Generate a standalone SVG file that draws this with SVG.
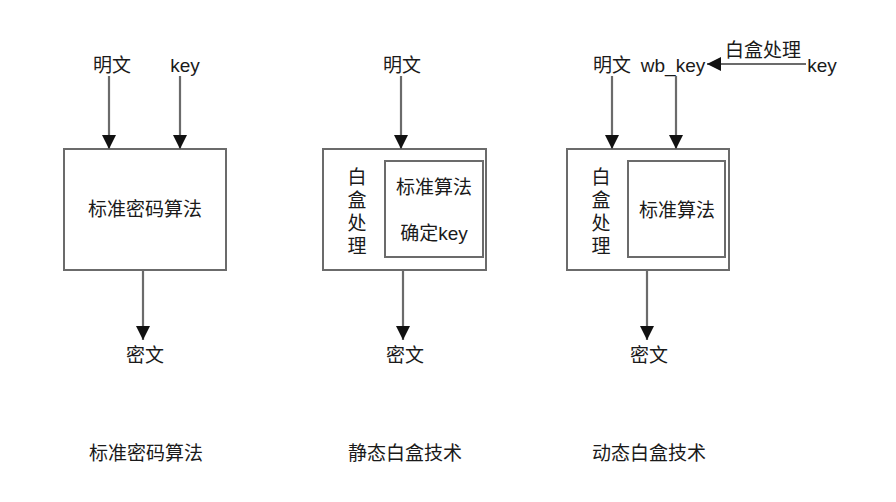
<svg xmlns="http://www.w3.org/2000/svg" width="896" height="502" viewBox="0 0 896 502">
<defs>
<marker id="ah" markerUnits="userSpaceOnUse" markerWidth="14" markerHeight="14" viewBox="0 0 14 14" refX="14" refY="7" orient="auto">
<path d="M0,0 L14,7 L0,14 Z" fill="#111"/>
</marker>
<style>
.t{font-family:"Liberation Sans","Noto Sans CJK SC",sans-serif;font-size:19px;fill:#1a1a1a;text-anchor:middle}
.b{fill:#fff;stroke:#6b6b6b;stroke-width:2}
.c{stroke:#6b6b6b;stroke-width:2.2;fill:none;marker-end:url(#ah)}
</style>
</defs>
<rect width="896" height="502" fill="#fff"/>
<g id="col1">
<text class="t" x="112" y="72">明文</text>
<text class="t" x="185" y="72">key</text>
<g id="box1"><rect class="b" x="64" y="149" width="162" height="121"/><text class="t" x="145" y="216">标准密码算法</text></g>
<text class="t" x="145" y="362">密文</text>
<text class="t" x="146" y="460">标准密码算法</text>
</g>
<g id="col2">
<text class="t" x="402" y="72">明文</text>
<g id="box2"><rect class="b" x="323" y="149" width="163" height="121"/>
<text class="t" x="357" y="184">白</text><text class="t" x="357" y="207">盒</text><text class="t" x="357" y="230">处</text><text class="t" x="357" y="253">理</text>
<g id="inner2"><rect class="b" x="385" y="161" width="98" height="96"/>
<text class="t" x="434" y="194">标准算法</text><text class="t" x="434" y="240">确定key</text></g></g>
<text class="t" x="405" y="362">密文</text>
<text class="t" x="405" y="460">静态白盒技术</text>
</g>
<g id="col3">
<text class="t" x="612" y="72">明文</text>
<text class="t" x="673" y="72">wb_key</text>
<text class="t" x="822" y="72">key</text>
<text class="t" x="763" y="57">白盒处理</text>
<g id="box3"><rect class="b" x="567" y="149" width="162" height="121"/>
<text class="t" x="601" y="184">白</text><text class="t" x="601" y="207">盒</text><text class="t" x="601" y="230">处</text><text class="t" x="601" y="253">理</text>
<g id="inner3"><rect class="b" x="628" y="161" width="97" height="96"/>
<text class="t" x="677" y="217">标准算法</text></g></g>
<text class="t" x="649" y="362">密文</text>
<text class="t" x="649" y="460">动态白盒技术</text>
</g>
<g id="connectors">
<line class="c" x1="109" y1="76" x2="109" y2="149"/>
<line class="c" x1="180" y1="76" x2="180" y2="149"/>
<line class="c" x1="143" y1="270" x2="143" y2="340"/>
<line class="c" x1="401" y1="76" x2="401" y2="149"/>
<line class="c" x1="403" y1="270" x2="403" y2="340"/>
<line class="c" x1="612" y1="76" x2="612" y2="149"/>
<line class="c" x1="676" y1="76" x2="676" y2="149"/>
<line class="c" x1="647" y1="270" x2="647" y2="340"/>
<line class="c" x1="806" y1="64" x2="707" y2="64"/>
</g>
</svg>
